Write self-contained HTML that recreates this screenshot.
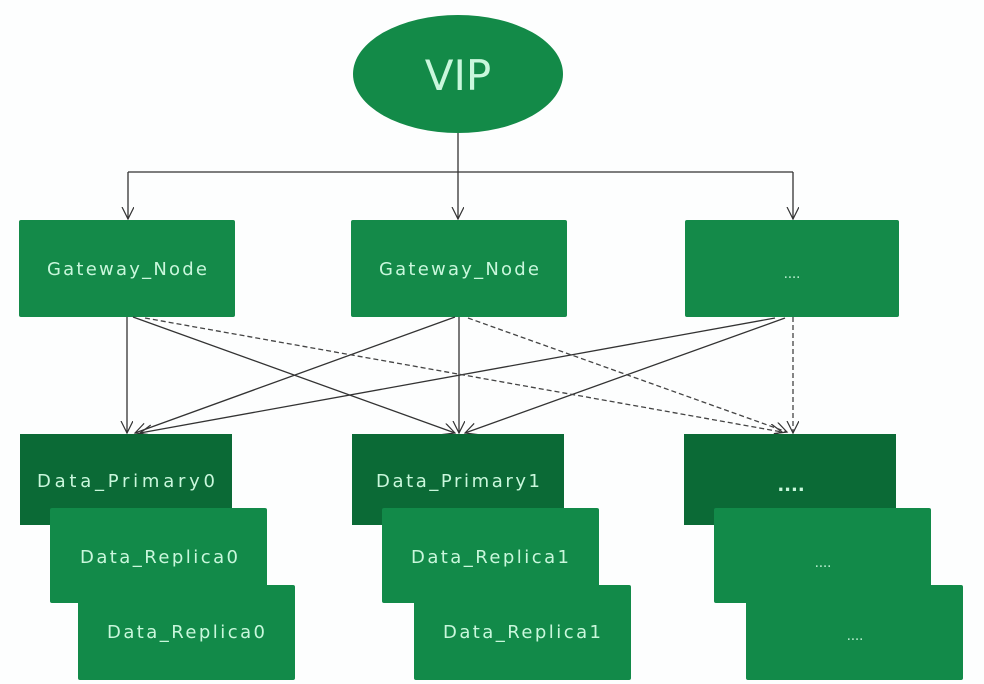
<!DOCTYPE html>
<html><head><meta charset="utf-8"><style>
html,body{margin:0;padding:0;background:#fff;}
svg{display:block;}
text{font-family:"DejaVu Sans","Liberation Sans",sans-serif;fill:#c9f7dc;}
</style></head><body>
<svg width="984" height="684" viewBox="0 0 984 684" xmlns="http://www.w3.org/2000/svg">
<defs>
<marker id="a" markerWidth="14" markerHeight="14" refX="12" refY="6" orient="auto" markerUnits="userSpaceOnUse">
<path d="M0,0 L12,6 L0,12" fill="none" stroke="#333" stroke-width="1.2"/>
</marker>
</defs>
<rect width="984" height="684" fill="#fdfefe"/>
<!-- VIP -->
<ellipse cx="458" cy="74" rx="105" ry="59" fill="#138a48"/>
<text x="458" y="90" font-size="42" text-anchor="middle" font-family="Liberation Sans">VIP</text>
<!-- top connectors -->
<g stroke="#333" stroke-width="1.3" fill="none">
<line x1="458" y1="133" x2="458" y2="219" marker-end="url(#a)"/>
<line x1="128" y1="172" x2="793" y2="172"/>
<line x1="128" y1="172" x2="128" y2="219" marker-end="url(#a)"/>
<line x1="793" y1="172" x2="793" y2="219" marker-end="url(#a)"/>
</g>
<!-- Gateways -->
<rect x="19" y="220" width="216" height="97" rx="2" fill="#148a49"/>
<rect x="351" y="220" width="216" height="97" rx="2" fill="#148a49"/>
<rect x="685" y="220" width="214" height="97" rx="2" fill="#148a49"/>
<text x="127" y="275" font-size="18" text-anchor="middle" textLength="160">Gateway_Node</text>
<text x="459" y="275" font-size="18" text-anchor="middle" textLength="160">Gateway_Node</text>
<text x="792" y="278" font-size="13" text-anchor="middle">....</text>
<!-- gateway-to-data connectors -->
<g stroke="#333" stroke-width="1.3" fill="none">
<line x1="127" y1="317" x2="127" y2="433" marker-end="url(#a)"/>
<line x1="133" y1="317" x2="455" y2="433" marker-end="url(#a)"/>
<line x1="459" y1="317" x2="459" y2="433" marker-end="url(#a)"/>
<line x1="455" y1="317" x2="135" y2="433" marker-end="url(#a)"/>
<line x1="775" y1="318" x2="140" y2="433" marker-end="url(#a)"/>
<line x1="785" y1="318" x2="465" y2="433" marker-end="url(#a)"/>
</g>
<g stroke="#444" stroke-width="1.3" fill="none" stroke-dasharray="5,3">
<line x1="145" y1="318" x2="782" y2="432" marker-end="url(#a)"/>
<line x1="468" y1="318" x2="787" y2="432" marker-end="url(#a)"/>
<line x1="793" y1="317" x2="793" y2="433" marker-end="url(#a)"/>
</g>
<!-- Column 1 -->
<rect x="20" y="434" width="212" height="91" fill="#0b6a36"/>
<rect x="50" y="508" width="217" height="95" rx="2" fill="#128a49"/>
<rect x="78" y="585" width="217" height="95" rx="2" fill="#128a49"/>
<text x="126" y="487" font-size="18" text-anchor="middle" textLength="178">Data_Primary0</text>
<text x="159" y="563" font-size="18" text-anchor="middle" textLength="158">Data_Replica0</text>
<text x="186" y="638" font-size="18" text-anchor="middle" textLength="158">Data_Replica0</text>
<!-- Column 2 -->
<rect x="352" y="434" width="212" height="91" fill="#0b6a36"/>
<rect x="382" y="508" width="217" height="95" rx="2" fill="#128a49"/>
<rect x="414" y="585" width="217" height="95" rx="2" fill="#128a49"/>
<text x="458" y="487" font-size="18" text-anchor="middle" textLength="164">Data_Primary1</text>
<text x="490" y="563" font-size="18" text-anchor="middle" textLength="158">Data_Replica1</text>
<text x="522" y="638" font-size="18" text-anchor="middle" textLength="158">Data_Replica1</text>
<!-- Column 3 -->
<rect x="684" y="434" width="212" height="91" fill="#0b6a36"/>
<rect x="714" y="508" width="217" height="95" rx="2" fill="#128a49"/>
<rect x="746" y="585" width="217" height="95" rx="2" fill="#128a49"/>
<text x="791" y="491" font-size="18" font-weight="bold" text-anchor="middle">....</text>
<text x="823" y="567" font-size="13" text-anchor="middle">....</text>
<text x="855" y="640" font-size="13" text-anchor="middle">....</text>
</svg>
</body></html>
